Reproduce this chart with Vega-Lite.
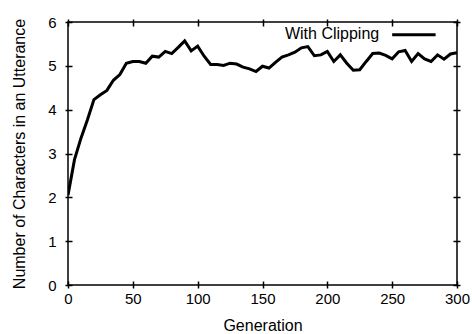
{
  "$schema": "https://vega.github.io/schema/vega-lite/v6.json",
  "width": 389,
  "height": 263,
  "autosize": "none",
  "padding": {"left": 68, "top": 22, "right": 15, "bottom": 49},
  "background": "white",
  "config": {
    "font": "Liberation Sans",
    "view": {"stroke": "black", "strokeWidth": 1.5},
    "axis": {
      "grid": false,
      "domain": false,
      "ticks": true,
      "tickColor": "black",
      "tickSize": 7,
      "tickWidth": 1.5,
      "tickOpacity": 1,
      "offset": -4,
      "zindex": 1,
      "labelFlush": false,
      "labelOverlap": false,
      "labelFont": "Liberation Sans",
      "labelFontSize": 15,
      "labelColor": "black",
      "titleFont": "Liberation Sans",
      "titleFontSize": 16,
      "titleFontWeight": "normal",
      "titleColor": "black"
    }
  },
  "resolve": {"axis": {"x": "independent", "y": "independent"}},
  "layer": [
    {
      "data": {
        "values": [
          {"g": 0, "v": 2.05}, {"g": 5, "v": 2.86}, {"g": 10, "v": 3.35}, {"g": 15, "v": 3.77},
          {"g": 20, "v": 4.23}, {"g": 25, "v": 4.34}, {"g": 30, "v": 4.44}, {"g": 35, "v": 4.67},
          {"g": 40, "v": 4.8}, {"g": 45, "v": 5.06}, {"g": 50, "v": 5.1}, {"g": 55, "v": 5.1},
          {"g": 60, "v": 5.06}, {"g": 65, "v": 5.22}, {"g": 70, "v": 5.2}, {"g": 75, "v": 5.33},
          {"g": 80, "v": 5.28}, {"g": 85, "v": 5.42}, {"g": 90, "v": 5.57}, {"g": 95, "v": 5.34},
          {"g": 100, "v": 5.45}, {"g": 105, "v": 5.22}, {"g": 110, "v": 5.03}, {"g": 115, "v": 5.03},
          {"g": 120, "v": 5.01}, {"g": 125, "v": 5.06}, {"g": 130, "v": 5.04}, {"g": 135, "v": 4.97},
          {"g": 140, "v": 4.93}, {"g": 145, "v": 4.87}, {"g": 150, "v": 4.99}, {"g": 155, "v": 4.95},
          {"g": 160, "v": 5.08}, {"g": 165, "v": 5.2}, {"g": 170, "v": 5.25}, {"g": 175, "v": 5.31},
          {"g": 180, "v": 5.41}, {"g": 185, "v": 5.44}, {"g": 190, "v": 5.23}, {"g": 195, "v": 5.25},
          {"g": 200, "v": 5.33}, {"g": 205, "v": 5.1}, {"g": 210, "v": 5.25}, {"g": 215, "v": 5.06},
          {"g": 220, "v": 4.9}, {"g": 225, "v": 4.91}, {"g": 230, "v": 5.1}, {"g": 235, "v": 5.28},
          {"g": 240, "v": 5.29}, {"g": 245, "v": 5.24}, {"g": 250, "v": 5.16}, {"g": 255, "v": 5.32},
          {"g": 260, "v": 5.35}, {"g": 265, "v": 5.1}, {"g": 270, "v": 5.28}, {"g": 275, "v": 5.16},
          {"g": 280, "v": 5.1}, {"g": 285, "v": 5.25}, {"g": 290, "v": 5.15}, {"g": 295, "v": 5.27},
          {"g": 300, "v": 5.3}
        ]
      },
      "mark": {"type": "line", "color": "black", "strokeWidth": 3, "strokeJoin": "miter", "clip": true},
      "encoding": {
        "x": {"field": "g", "type": "quantitative", "scale": {"domain": [0, 300], "nice": false},
          "axis": {"title": "Generation", "values": [0, 50, 100, 150, 200, 250, 300], "labelPadding": 3, "titlePadding": 11, "zindex": 1}},
        "y": {"field": "v", "type": "quantitative", "scale": {"domain": [0, 6], "nice": false},
          "axis": {"title": "Number of Characters in an Utterance", "values": [0, 1, 2, 3, 4, 5, 6], "labelPadding": 9, "titlePadding": 20, "zindex": 1}}
      }
    },
    {
      "data": {"values": [{}]},
      "mark": {"type": "rule", "opacity": 0},
      "encoding": {
        "x": {"datum": 0, "type": "quantitative",
          "axis": {"orient": "top", "title": null, "labels": false, "values": [0, 50, 100, 150, 200, 250, 300], "zindex": 1}},
        "y": {"datum": 0, "type": "quantitative",
          "axis": {"orient": "right", "title": null, "labels": false, "values": [0, 1, 2, 3, 4, 5, 6], "zindex": 1}}
      }
    },
    {
      "data": {"values": [{}]},
      "mark": {"type": "rule", "color": "black", "strokeWidth": 3},
      "encoding": {
        "x": {"datum": 250, "type": "quantitative", "axis": null},
        "x2": {"datum": 283.5},
        "y": {"datum": 5.71, "type": "quantitative", "axis": null}
      }
    },
    {
      "data": {"values": [{}]},
      "mark": {"type": "text", "align": "right", "baseline": "middle", "fontSize": 16, "font": "Liberation Sans", "color": "black"},
      "encoding": {
        "x": {"datum": 240, "type": "quantitative", "axis": null},
        "y": {"datum": 5.73, "type": "quantitative", "axis": null},
        "text": {"value": "With Clipping"}
      }
    }
  ]
}
